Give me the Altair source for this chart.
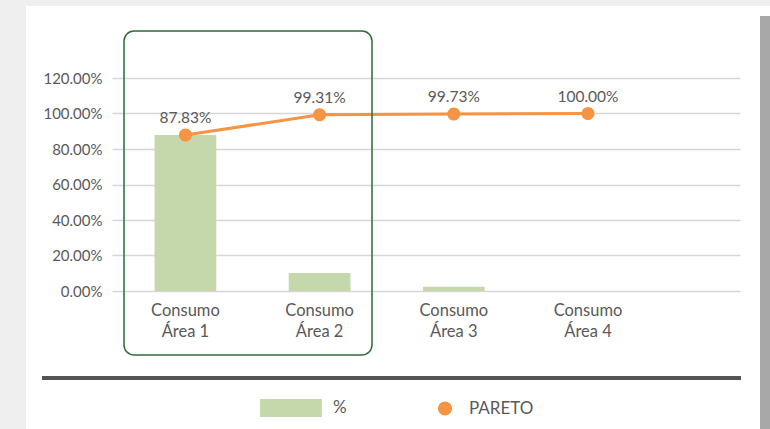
import altair as alt
import pandas as pd

categories = ["Consumo Área 1", "Consumo Área 2", "Consumo Área 3", "Consumo Área 4"]
share = [0.8783, 0.101, 0.024, 0.0]
pareto = [0.8783, 0.9931, 0.9973, 1.0]
y_ticks = [0, 0.2, 0.4, 0.6, 0.8, 1.0, 1.2]
series = ["%", "PARETO"]

df = pd.DataFrame({"cat": categories, "share": share, "pareto": pareto, "serie": "PARETO"})

FONT = "Lato"
TXT = "#595959"
GREEN = "#c4d8ac"
ORANGE = "#f59443"

x_axis = alt.Axis(
    labelExpr="split(replace(datum.label, 'Consumo ', 'Consumo|'), '|')",
    labelAngle=0,
    labelFont=FONT,
    labelFontSize=16.5,
    labelColor=TXT,
    labelPadding=11,
    labelLineHeight=21,
    labelOverlap=False,
    ticks=False,
    domain=False,
    grid=False,
)
x_scale = alt.Scale(paddingInner=0.54, paddingOuter=0.61, align=0.26)

y_scale = alt.Scale(domain=[0, 1.2], nice=False, zero=True)
y_axis = alt.Axis(
    format=".2%",
    values=y_ticks,
    labelFont=FONT,
    labelFontSize=15,
    labelColor=TXT,
    labelPadding=10,
    labelOverlap=False,
    ticks=False,
    domain=False,
    gridColor="#d6d6d6",
    gridWidth=1.5,
    title=None,
)


def X():
    return alt.X("cat:N", sort=categories, title=None, scale=x_scale, axis=x_axis)


def Y(field):
    return alt.Y(field, type="quantitative", scale=y_scale, axis=y_axis)


base = alt.Chart(df)
one = pd.DataFrame({"k": [0]})

# frame of the screenshot card (decoration, outside plot area)
left_strip = alt.Chart(one).mark_rect(fill="#efefef").encode(
    x=alt.value(-112), x2=alt.value(-86), y=alt.value(-78), y2=alt.value(351)
)
top_strip = alt.Chart(one).mark_rect(fill="#efefef").encode(
    x=alt.value(-112), x2=alt.value(658), y=alt.value(-78), y2=alt.value(-72)
)
shadow = alt.Chart(one).mark_rect(fill="#a8a8a8").encode(
    x=alt.value(648), x2=alt.value(658), y=alt.value(-62), y2=alt.value(351)
)

bars = base.mark_bar(color=GREEN).encode(x=X(), y=Y("share"))

line = base.mark_line(color=ORANGE, strokeWidth=3).encode(x=X(), y=Y("pareto"))

rect_path = "M-1.03,-0.3H1.03V0.3H-1.03Z"
circ_path = "M0.833,0A0.233,0.233 0 1,1 0.367,0A0.233,0.233 0 1,1 0.833,0Z"
circ_plot = "M0.217,0A0.217,0.217 0 1,1 -0.217,0A0.217,0.217 0 1,1 0.217,0Z"

points = base.mark_point(filled=True, opacity=1, shape=circ_plot, size=3600).encode(
    x=X(),
    y=Y("pareto"),
    color=alt.Color(
        "serie:N",
        scale=alt.Scale(domain=series, range=[GREEN, ORANGE]),
        legend=alt.Legend(
            title=None,
            orient="none",
            legendX=149,
            legendY=300,
            direction="horizontal",
            symbolType=rect_path,
            symbolSize=3600,
            labelFont=FONT,
            labelFontSize=17,
            labelColor=TXT,
            labelOffset=12,
            columnPadding=50,
            symbolStrokeWidth=0,
        ),
    ),
)

legend_layer = alt.Chart(pd.DataFrame({"serie": series})).mark_point(filled=True, opacity=0, size=3600).encode(
    color=alt.Color("serie:N", scale=alt.Scale(domain=series, range=[GREEN, ORANGE])),
    shape=alt.Shape("serie:N", scale=alt.Scale(domain=series, range=[rect_path, circ_path])),
    x=alt.value(0),
    y=alt.value(0),
)

labels = base.mark_text(dy=-17, font=FONT, fontSize=15.5, color=TXT).encode(
    x=X(),
    y=Y("pareto"),
    text=alt.Text("pareto:Q", format=".2%"),
)

box = alt.Chart(one).mark_rect(
    fill=None, stroke="#2e6b3a", strokeWidth=1.5, cornerRadius=10
).encode(x=alt.value(12), x2=alt.value(260), y=alt.value(-47), y2=alt.value(277))

sep = alt.Chart(one).mark_rule(color="#555555", strokeWidth=4).encode(
    x=alt.value(-70), x2=alt.value(629), y=alt.value(300)
)

chart = (
    alt.layer(bars, line, points, legend_layer, labels, box, sep, left_strip, top_strip, shadow)
    .resolve_scale(color="shared", shape="shared")
    .properties(
        width=628,
        height=213,
        autosize=alt.AutoSizeParams(type="none"),
        padding={"left": 112, "top": 78, "right": 30, "bottom": 138},
        background="white",
    )
    .configure_view(stroke=None, clip=False)
)

chart.save("out.html", embed_options={"renderer": "svg", "actions": False})
